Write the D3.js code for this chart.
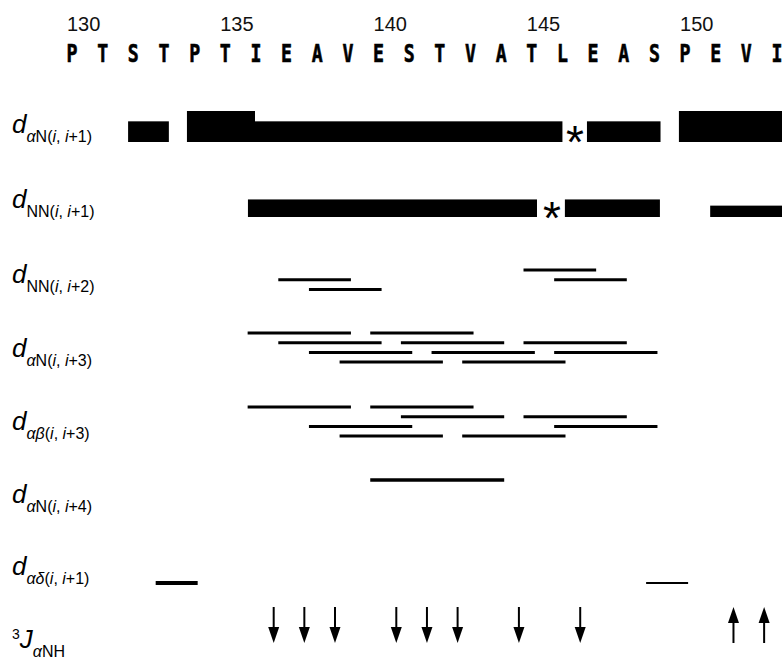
<!DOCTYPE html>
<html>
<head>
<meta charset="utf-8">
<script src="https://cdn.jsdelivr.net/npm/d3@7"></script>
<style>
  html, body { margin: 0; padding: 0; background: #fff; }
  svg { display: block; }
</style>
</head>
<body>
<script>
// Sequence shown along the top, starting at residue 130
const firstResidue = 130;
const sequence = ["P","T","S","T","P","T","I","E","A","V","E","S","T","V","A","T","L","E","A","S","P","E","V","I"];
const tickNumbers = [130, 135, 140, 145, 150];

// Sequential NOE bars: [from, to, intensity]
const daN1Bars = [[131.83, 133.16, 2], [133.75, 135.97, 3], [135.97, 146.0, 2], [146.8, 149.2, 2], [149.8, 153.8, 3]];
const dNN1Bars = [[135.74, 145.17, 1.7], [146.08, 149.18, 1.7], [150.82, 153.8, 1.1]];
// Ambiguous (overlapping) sequential connectivities
const daN1Ambiguous = [146.41];
const dNN1Ambiguous = [145.66];

// Medium-range NOEs, listed by starting residue i (partner is i + span)
const dNN2 = [137, 138, 145, 146];
const daN3 = [136, 137, 138, 139, 140, 141, 142, 143, 145, 146];
const dab3 = [136, 138, 139, 140, 141, 143, 145, 146];
const daN4 = [140];
// d alpha-delta (i, i+1) to prolines: [i, intensity]
const dad1 = [[133, 2], [149, 1]];

// 3J(alpha-NH) coupling constants: small (< 6 Hz) and large (> 8 Hz)
const jSmall = [136, 137, 138, 140, 141, 142, 144, 146];
const jLarge = [151, 152];

const W = 782, H = 659;
const svg = d3.select("body").append("svg")
  .attr("width", W).attr("height", H)
  .attr("viewBox", `0 0 ${W} ${H}`);

const x = d3.scaleLinear().domain([130, 153]).range([72, 777]);
const barH = d3.scaleLinear().domain([0, 3]).range([0, 31]);

const ink = "#000";
const sans = "'Liberation Sans', Arial, Helvetica, sans-serif";

// ---- residue numbers ----
svg.append("g").selectAll("text").data(tickNumbers).join("text")
  .attr("x", d => x(d) - 5)
  .attr("y", 31)
  .attr("font-family", sans)
  .attr("font-size", 20)
  .attr("fill", "#111")
  .text(d => d);

// ---- one-letter sequence ----
svg.append("g").selectAll("text").data(sequence).join("text")
  .attr("transform", (d, i) => `translate(${x(firstResidue + i)},62) scale(0.76,1)`)
  .attr("text-anchor", "middle")
  .attr("font-family", "'DejaVu Sans Mono', monospace")
  .attr("font-weight", "bold")
  .attr("font-size", 24)
  .attr("fill", ink)
  .attr("stroke", ink)
  .attr("stroke-width", 0.6)
  .text(d => d);

// ---- row labels ----
const rowLabels = [
  { y: 133, main: "d", sub: [["α", true], ["N(", false], ["i", true], [", ", false], ["i", true], ["+1)", false]] },
  { y: 208, main: "d", sub: [["NN(", false], ["i", true], [", ", false], ["i", true], ["+1)", false]] },
  { y: 283, main: "d", sub: [["NN(", false], ["i", true], [", ", false], ["i", true], ["+2)", false]] },
  { y: 357, main: "d", sub: [["α", true], ["N(", false], ["i", true], [", ", false], ["i", true], ["+3)", false]] },
  { y: 430, main: "d", sub: [["αβ", true], ["(", false], ["i", true], [", ", false], ["i", true], ["+3)", false]] },
  { y: 503, main: "d", sub: [["α", true], ["N(", false], ["i", true], [", ", false], ["i", true], ["+4)", false]] },
  { y: 575, main: "d", sub: [["αδ", true], ["(", false], ["i", true], [", ", false], ["i", true], ["+1)", false]] }
];

const labelG = svg.append("g").attr("font-family", sans).attr("fill", ink);
rowLabels.forEach(r => {
  const t = labelG.append("text").attr("x", 12).attr("y", r.y);
  t.append("tspan").attr("font-size", 26).attr("font-style", "italic").text(r.main);
  r.sub.forEach((s, k) => {
    const ts = t.append("tspan").attr("font-size", 16)
      .attr("font-style", s[1] ? "italic" : "normal")
      .text(s[0]);
    if (k === 0) ts.attr("dy", 9);
  });
});

// 3J alpha-NH label
const jl = labelG.append("text").attr("x", 12).attr("y", 639);
jl.append("tspan").attr("font-size", 14).text("3");
jl.append("tspan").attr("font-size", 26).attr("font-style", "italic").attr("dy", 9).text("J");
jl.append("tspan").attr("font-size", 16).attr("font-style", "italic").attr("dy", 9).text("α");
jl.append("tspan").attr("font-size", 16).text("NH");

// ---- sequential bars ----
function drawBars(data, bottom) {
  svg.append("g").selectAll("rect").data(data).join("rect")
    .attr("x", d => x(d[0]))
    .attr("width", d => Math.min(x(d[1]), W + 5) - x(d[0]))
    .attr("y", d => bottom - barH(d[2]))
    .attr("height", d => barH(d[2]))
    .attr("fill", ink);
}
drawBars(daN1Bars, 142);
drawBars(dNN1Bars, 217);

function drawStars(data, centerY) {
  svg.append("g").selectAll("text").data(data).join("text")
    .attr("x", d => x(d))
    .attr("y", centerY + 26)
    .attr("text-anchor", "middle")
    .attr("font-family", sans)
    .attr("font-size", 46)
    .attr("fill", ink)
    .text("*");
}
drawStars(daN1Ambiguous, 132);
drawStars(dNN1Ambiguous, 208);

// ---- medium-range NOE lines ----
const startPad = 0.27, endPad = 0.1, levelGap = 9.7;
function drawNoes(data, span, baseY, stacked, width) {
  svg.append("g").selectAll("line").data(data).join("line")
    .attr("x1", d => x(d - startPad))
    .attr("x2", d => x(d + span + endPad))
    .attr("y1", d => baseY + (stacked ? ((d - 136) % (span + 1)) * levelGap : 0))
    .attr("y2", d => baseY + (stacked ? ((d - 136) % (span + 1)) * levelGap : 0))
    .attr("stroke", ink)
    .attr("stroke-width", width);
}
drawNoes(dNN2, 2, 270, true, 3);
drawNoes(daN3, 3, 333, true, 3);
drawNoes(dab3, 3, 407, true, 3);
drawNoes(daN4, 4, 480, false, 3.5);

svg.append("g").selectAll("line").data(dad1).join("line")
  .attr("x1", d => x(d[0] - startPad))
  .attr("x2", d => x(d[0] + 1 + endPad))
  .attr("y1", 583).attr("y2", 583)
  .attr("stroke", ink)
  .attr("stroke-width", d => d[1] * 2);

// ---- 3J arrows ----
const arrowShift = 0.58;
const arrowG = svg.append("g").attr("fill", ink).attr("stroke", ink);
jSmall.forEach(r => {
  const ax = x(r + arrowShift);
  arrowG.append("line").attr("x1", ax).attr("x2", ax).attr("y1", 607).attr("y2", 630).attr("stroke-width", 2);
  arrowG.append("path").attr("stroke", "none")
    .attr("d", `M${ax - 5.5},627 L${ax + 5.5},627 L${ax},643 Z`);
});
jLarge.forEach(r => {
  const ax = x(r + arrowShift);
  arrowG.append("line").attr("x1", ax).attr("x2", ax).attr("y1", 620).attr("y2", 643).attr("stroke-width", 2);
  arrowG.append("path").attr("stroke", "none")
    .attr("d", `M${ax - 5.5},623 L${ax + 5.5},623 L${ax},607 Z`);
});
</script>
</body>
</html>
